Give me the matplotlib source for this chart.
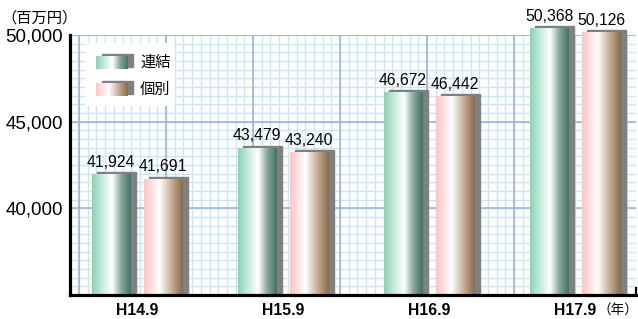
import numpy as np
import matplotlib
matplotlib.use('Agg')
import matplotlib.pyplot as plt
from matplotlib.colors import LinearSegmentedColormap
from matplotlib.patches import Rectangle
from matplotlib.transforms import ScaledTranslation

# ---------------- data ----------------
categories = ['H14.9', 'H15.9', 'H16.9', 'H17.9']
consolidated = [41924, 43479, 46672, 50368]   # 連結
individual = [41691, 43240, 46442, 50126]     # 個別
series_names = ['連結', '個別']
yticks = [40000, 45000, 50000]
ytick_labels = ['40,000', '45,000', '50,000']
y_unit = '（百万円）'
x_unit = '（年）'

CJK = ['Noto Sans CJK JP', 'DejaVu Sans']
LAT = ['Liberation Sans', 'DejaVu Sans']

green_cmap = LinearSegmentedColormap.from_list(
    'g', [(0, '#8cd2b4'), (0.25, '#c4eadb'), (0.52, '#ffffff'), (0.75, '#8aa89c'), (1.0, '#3f7363')])
pink_cmap = LinearSegmentedColormap.from_list(
    'p', [(0, '#ffc4c4'), (0.2, '#ffe0e0'), (0.4, '#ffffff'), (0.7, '#c7b09a'), (1.0, '#8a6a4a')])
grad = np.linspace(0, 1, 256).reshape(1, -1)

W, H = 638, 319
fig = plt.figure(figsize=(W / 100, H / 100), dpi=100)
L, R, T, B = 70, 636, 35, 295
rect = [L / W, 1 - B / H, (R - L) / W, (B - T) / H]

# ---------------- background grid ----------------
bg = fig.add_axes(rect, zorder=0)
bg.set_xlim(0, R - L)
bg.set_ylim(0, B - T)
bg.axis('off')
for x in np.arange(0.3, R - L, 8.7):
    bg.axvline(x, color='#c8e7f1', lw=1.0)
for y in np.arange(0, B - T + 0.1, (B - T) / 30):
    bg.axhline(y, color='#c8e7f1', lw=1.0)
for x in np.arange(9, R - L, 87):
    bg.axvline(x, color='#98aedb', lw=1.1)
for y in np.arange(0, B - T + 0.1, (B - T) / 3):
    bg.axhline(y, color='#98aedb', lw=1.1)

# ---------------- main axes ----------------
ax = fig.add_axes(rect, zorder=1)
ax.patch.set_alpha(0)
ymin, ymax = 35000, 50000
xlo, xhi = -0.459, 3.418
off, w = 0.178, 0.262
shadow_tr = ax.transData + ScaledTranslation(5.5 / 100, 2.5 / 100, fig.dpi_scale_trans)

for i in range(len(categories)):
    for sgn, val, cmap in ((-1, consolidated[i], green_cmap), (1, individual[i], pink_cmap)):
        xc = i + sgn * off
        x0 = xc - w / 2
        ax.add_patch(Rectangle((x0, ymin), w, val - ymin, transform=shadow_tr,
                               color='#808080', clip_on=False, zorder=2))
        ax.imshow(grad, extent=[x0, x0 + w, ymin, val], aspect='auto', cmap=cmap,
                  zorder=3, clip_on=False, interpolation='bilinear')
        ax.annotate(f'{val:,}', (xc, val), xytext=(0, 5.5), textcoords='offset points',
                    ha='center', va='baseline', fontsize=11.3, family=LAT, zorder=4,
                    annotation_clip=False)

ax.set_xlim(xlo, xhi)
ax.set_ylim(ymin, ymax)
for s in ('top', 'right'):
    ax.spines[s].set_visible(False)
for s in ('left', 'bottom'):
    ax.spines[s].set_linewidth(2.3)
    ax.spines[s].set_color('black')
    ax.spines[s].set_zorder(5)
ax.set_xticks(range(len(categories)))
ax.set_xticklabels(categories, fontsize=11.3, fontweight='bold', family=LAT)
ax.set_yticks(yticks)
ax.set_yticklabels(ytick_labels, fontsize=13.5, family=LAT)
ax.tick_params(axis='both', length=0)
ax.tick_params(axis='x', pad=5.5)
ax.tick_params(axis='y', pad=5)
ax.plot([1, 1], [0, 0.027], transform=ax.transAxes, color='black', lw=1.6,
        clip_on=False, zorder=5)

# ---------------- overlay: legend and units ----------------
ov = fig.add_axes([0, 0, 1, 1], zorder=3)
ov.set_xlim(0, W)
ov.set_ylim(H, 0)
ov.axis('off')
ov.add_patch(Rectangle((85, 43), 90, 63, fc='white', ec='none', zorder=1))
for yy, cmap, name in ((56, green_cmap, series_names[0]), (83, pink_cmap, series_names[1])):
    ov.add_patch(Rectangle((102, yy - 2), 31, 13, color='#808080', zorder=2))
    ov.imshow(grad, extent=[96, 128, yy + 13, yy], aspect='auto', cmap=cmap,
              interpolation='bilinear', zorder=3)
    ov.text(140, yy + 6, name, ha='left', va='center', fontsize=11, family=CJK, zorder=4)
ov.set_xlim(0, W)
ov.set_ylim(H, 0)
ov.text(1, 18, y_unit, ha='left', va='center', fontsize=11, family=CJK)
ov.text(638, 310, x_unit, ha='right', va='center', fontsize=9.8, family=CJK)

fig.savefig('out.png', dpi=100)
